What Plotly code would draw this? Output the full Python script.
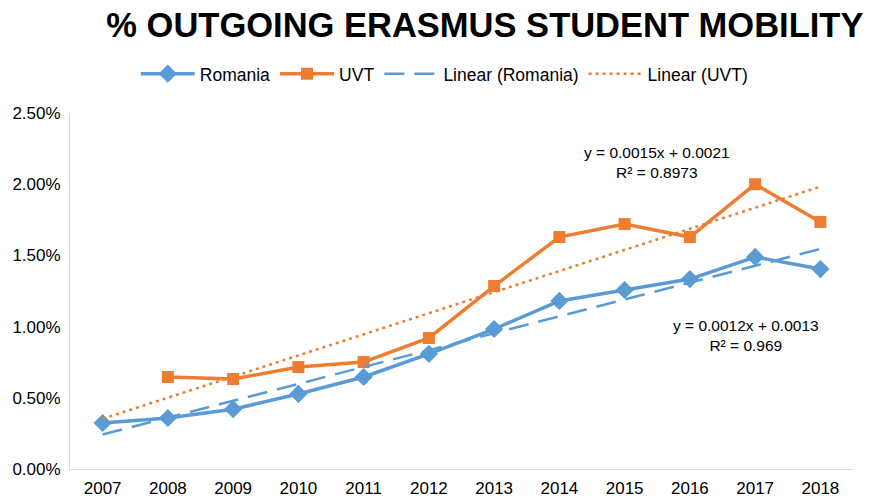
import numpy as np
import plotly.graph_objects as go

years = ["2007", "2008", "2009", "2010", "2011", "2012", "2013", "2014", "2015", "2016", "2017", "2018"]
romania = [0.00323, 0.00358, 0.00420, 0.00527, 0.00646, 0.00808, 0.00983, 0.01180, 0.01257, 0.01334, 0.01489, 0.01404]
uvt = [None, 0.00646, 0.00632, 0.00716, 0.00751, 0.00920, 0.01285, 0.01629, 0.01720, 0.01629, 0.02000, 0.01735]
eq_romania = ["y = 0.0012x + 0.0013", "R² = 0.969"]
eq_uvt = ["y = 0.0015x + 0.0021", "R² = 0.8973"]

BLUE = "#5B9BD5"
ORANGE = "#ED7D31"
FONT = "Liberation Sans, Arial, Helvetica, sans-serif"

# category positions 1..12 (Excel-style trendline x)
idx = list(range(1, len(years) + 1))
idx_arr = np.array(idx, dtype=float)
r_fit = np.polyfit(idx_arr, np.array(romania, dtype=float), 1)
u_pts = [(i, v) for i, v in zip(idx, uvt) if v is not None]
u_fit = np.polyfit([p[0] for p in u_pts], [p[1] for p in u_pts], 1)
r_trend = [float(v) for v in np.polyval(r_fit, idx_arr)]
u_trend = [float(v) for v in np.polyval(u_fit, idx_arr)]

fig = go.Figure()
fig.add_trace(go.Scatter(x=idx, y=romania, name="Romania", mode="lines+markers",
                         line=dict(color=BLUE, width=3.5),
                         marker=dict(symbol="diamond", size=14, color=BLUE)))
fig.add_trace(go.Scatter(x=idx, y=uvt, name="UVT", mode="lines+markers",
                         line=dict(color=ORANGE, width=3.5),
                         marker=dict(symbol="square", size=12, color=ORANGE)))
fig.add_trace(go.Scatter(x=idx, y=r_trend, name="Linear (Romania)", mode="lines",
                         line=dict(color=BLUE, width=2.5, dash="20px,10px")))
fig.add_trace(go.Scatter(x=idx, y=u_trend, name="Linear (UVT)", mode="lines",
                         line=dict(color=ORANGE, width=2.5, dash="3px,4px")))

fig.add_annotation(x=9.5, y=0.02152, xref="x", yref="y", text="<br>".join(eq_uvt),
                   showarrow=False,
                   font=dict(family=FONT, size=15.5, color="#000000"), align="center")
fig.add_annotation(x=10.86, y=0.00938, xref="x", yref="y", text="<br>".join(eq_romania),
                   showarrow=False,
                   font=dict(family=FONT, size=15.5, color="#000000"), align="center")

fig.update_layout(
    width=869, height=497,
    margin=dict(l=70, r=16, t=113, b=28, autoexpand=False),
    paper_bgcolor="white", plot_bgcolor="white",
    font=dict(family=FONT, color="#000000"),
    title=dict(text="<b>% OUTGOING ERASMUS STUDENT MOBILITY</b>", x=0.558, xanchor="center",
               y=0.95, yanchor="middle", font=dict(family=FONT, size=34.5, color="#000000")),
    legend=dict(orientation="h", x=0.478, xanchor="center", y=1.11, yanchor="middle",
                font=dict(family=FONT, size=17.5, color="#000000"), traceorder="normal",
                itemwidth=54),
    showlegend=True,
)
fig.update_xaxes(range=[0.5, 12.5], tickvals=idx, ticktext=years, showgrid=False,
                 showline=True, linecolor="#D9D9D9", linewidth=1, automargin=False,
                 ticks="", ticklabelstandoff=4,
                 tickfont=dict(family=FONT, size=17, color="#000000"), zeroline=False)
fig.update_yaxes(range=[0, 0.025], dtick=0.005, tickformat=".2%", showgrid=False,
                 showline=True, linecolor="#D9D9D9", linewidth=1, automargin=False,
                 ticks="", ticklabelstandoff=5,
                 tickfont=dict(family=FONT, size=17, color="#000000"), zeroline=False)

fig.write_html("out.html", config={"displayModeBar": False},
               post_script="document.body.style.margin='0';")
